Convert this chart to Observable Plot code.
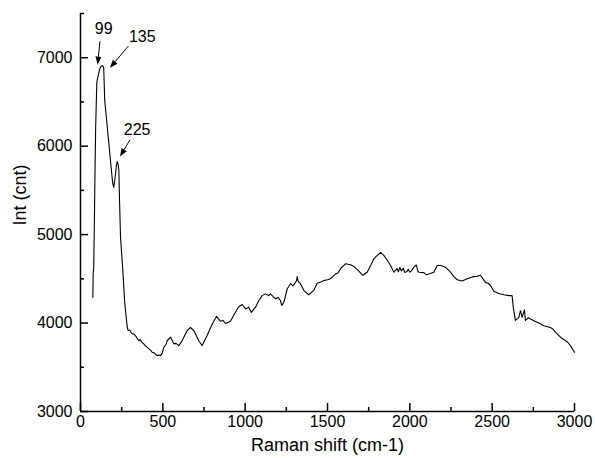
<!DOCTYPE html>
<html>
<head>
<meta charset="utf-8">
<script src="https://cdn.jsdelivr.net/npm/d3@7"></script>
<script src="https://cdn.jsdelivr.net/npm/@observablehq/plot@0.6"></script>
<style>
  html, body { margin: 0; padding: 0; background: #fff; }
  #chart { width: 595px; height: 458px; }
</style>
</head>
<body>
<div id="chart"></div>
<script>
// Raman spectrum
const ramanShift = [75,77,80,84,88,92,96,99,103,110,118,126,135,141,147,166,186,195,202,210,218,223,229,233,237,243,257,269,284,290,300,307,314,324,332,340,354,362,370,384,395,405,420,428,435,450,466,476,486,496,506,520,526,547,567,580,597,617,648,668,688,700,718,739,769,800,826,850,865,881,911,935,961,982,1002,1022,1037,1063,1083,1103,1123,1144,1154,1170,1184,1200,1214,1222,1235,1255,1275,1290,1306,1312,1316,1322,1336,1356,1386,1417,1437,1460,1478,1500,1518,1535,1549,1565,1579,1609,1640,1660,1686,1714,1741,1767,1781,1802,1822,1842,1863,1883,1903,1923,1930,1940,1948,1960,1970,1984,1990,2000,2014,2020,2034,2040,2048,2054,2085,2100,2115,2146,2166,2186,2217,2247,2267,2288,2318,2348,2370,2388,2409,2429,2459,2475,2490,2510,2540,2571,2601,2621,2628,2641,2662,2672,2682,2696,2702,2720,2733,2750,2773,2790,2813,2854,2870,2885,2915,2945,2960,2975,3000];
const intensity = [4290,4560,4600,5100,5700,6200,6500,6720,6760,6820,6880,6905,6910,6885,6520,6150,5760,5590,5535,5640,5780,5825,5790,5725,5390,4970,4595,4220,3950,3915,3920,3895,3880,3875,3860,3840,3800,3815,3790,3765,3740,3725,3700,3690,3670,3660,3630,3640,3630,3660,3725,3760,3800,3840,3765,3770,3745,3800,3915,3950,3915,3870,3800,3745,3860,3990,4075,4020,4030,3995,4020,4105,4185,4210,4160,4180,4120,4180,4255,4310,4330,4310,4330,4300,4275,4290,4255,4200,4235,4385,4445,4420,4460,4480,4525,4470,4445,4370,4320,4370,4450,4465,4480,4490,4500,4530,4555,4570,4615,4670,4660,4640,4595,4540,4575,4670,4725,4765,4800,4765,4710,4650,4575,4615,4580,4630,4590,4620,4570,4585,4610,4575,4600,4620,4650,4655,4590,4575,4570,4545,4555,4575,4650,4650,4630,4575,4525,4490,4475,4500,4515,4525,4530,4540,4460,4450,4425,4360,4335,4320,4310,4310,4180,4030,4065,4140,4065,4150,4030,4060,4045,4030,4010,3995,3970,3950,3930,3895,3840,3800,3780,3745,3670];

// axis ticks
const xMajorTicks = [0, 500, 1000, 1500, 2000, 2500, 3000];
const xMinorTicks = [250, 750, 1250, 1750, 2250, 2750];
const yMajorTicks = [3000, 4000, 5000, 6000, 7000];
const yMinorTicks = [3500, 4500, 5500, 6500, 7500];

// peak annotations
const peakLabels = ["99", "135", "225"];
const labelX = [141, 375, 344];
const labelY = [7322, 7238, 6189];
const arrowFromX = [121, 293, 304];
const arrowFromY = [7181, 7125, 6067];
const arrowToX = [107, 182, 243];
const arrowToY = [6917, 6880, 5878];

const spectrum = ramanShift.map((x, i) => ({x, y: intensity[i]}));
const peaks = peakLabels.map((t, i) => ({
  t, tx: labelX[i], ty: labelY[i],
  x1: arrowFromX[i], y1: arrowFromY[i], x2: arrowToX[i], y2: arrowToY[i]
}));

const font = "'Liberation Sans', Arial, sans-serif";

// filled arrowheads drawn through the plot's own scales
function arrowHeads(index, scales) {
  const g = d3.create("svg:g");
  for (const p of peaks) {
    const ax = scales.x(p.x1), ay = scales.y(p.y1);
    const bx = scales.x(p.x2), by = scales.y(p.y2);
    const a = Math.atan2(by - ay, bx - ax);
    const L = 8, W = 3;
    const cx = bx - L * Math.cos(a), cy = by - L * Math.sin(a);
    const nx = -Math.sin(a) * W, ny = Math.cos(a) * W;
    g.append("path")
      .attr("d", `M${ax},${ay}L${cx},${cy}`)
      .attr("stroke", "#000").attr("stroke-width", 1).attr("fill", "none");
    g.append("path")
      .attr("d", `M${bx},${by}L${cx + nx},${cy + ny}L${cx - nx},${cy - ny}Z`)
      .attr("fill", "#000").attr("stroke", "none");
  }
  return g.node();
}

const chart = Plot.plot({
  width: 595,
  height: 458,
  marginLeft: 80,
  marginRight: 21,
  marginTop: 13,
  marginBottom: 47,
  style: { fontFamily: font, background: "#fff", color: "#000" },
  x: { domain: [0, 3000], axis: null },
  y: { domain: [3000, 7500], axis: null },
  marks: [
    Plot.line(spectrum, { x: "x", y: "y", stroke: "#000", strokeWidth: 1.1 }),
    // axes: major and minor ticks (inward)
    Plot.axisX({ ticks: xMajorTicks, tickSize: -8, tickPadding: 12, fontSize: 16, tickFormat: d => String(d), label: null, strokeWidth: 1.5 }),
    Plot.axisX({ ticks: xMinorTicks, tickSize: -4, tickFormat: () => "", label: null, strokeWidth: 1.5 }),
    Plot.axisY({ ticks: yMajorTicks, tickSize: -8, tickPadding: 16, fontSize: 16, tickFormat: d => String(d), label: null, strokeWidth: 1.5 }),
    Plot.axisY({ ticks: yMinorTicks, tickSize: -4, tickFormat: () => "", label: null, strokeWidth: 1.5 }),
    Plot.ruleX([0], { stroke: "#000", strokeWidth: 1.5 }),
    Plot.ruleY([3000], { stroke: "#000", strokeWidth: 1.5 }),
    // axis titles
    Plot.text(["Raman shift (cm-1)"], { frameAnchor: "bottom", dy: 39, fontSize: 18, fill: "#000" }),
    Plot.text(["Int (cnt)"], { frameAnchor: "left", rotate: -90, dx: -60, dy: 13, fontSize: 18, fill: "#000" }),
    // peak annotations
    arrowHeads,
    Plot.text(peaks, { x: "tx", y: "ty", text: "t", fontSize: 16, fill: "#000" })
  ]
});

document.getElementById("chart").appendChild(chart);
</script>
</body>
</html>
